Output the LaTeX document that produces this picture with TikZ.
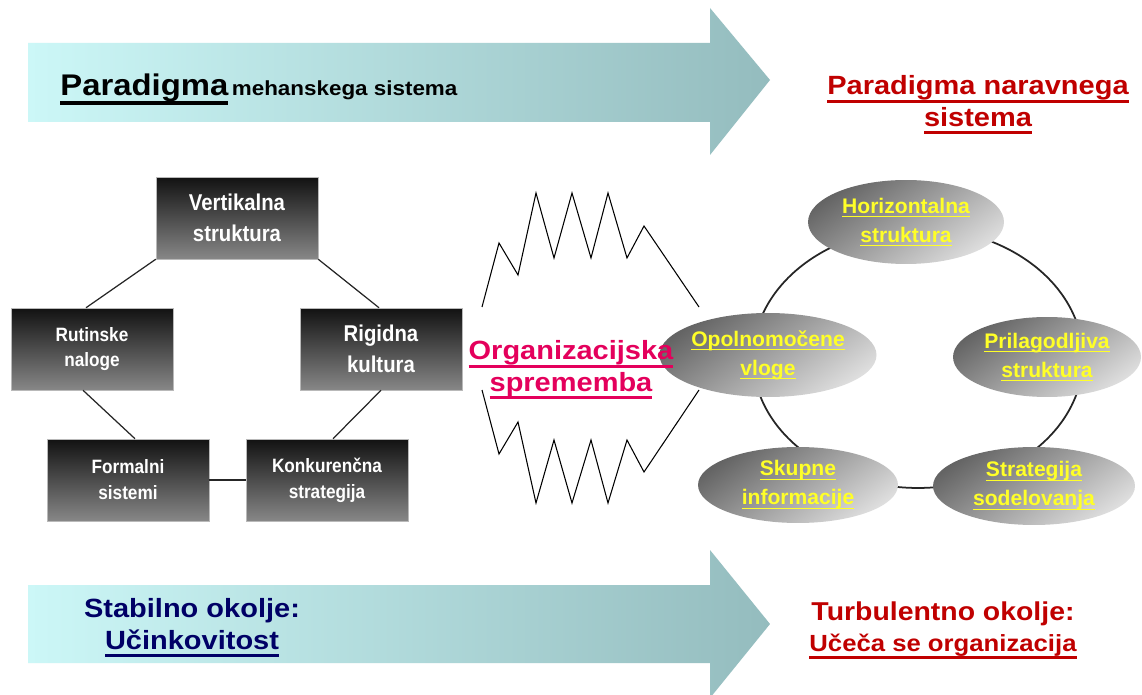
\documentclass[tikz,border=0pt]{standalone}
\usepackage{fontspec}
\setmainfont{Liberation Sans}
\newfontfamily\widefont[FakeStretch=1.1]{Liberation Sans}
\newfontfamily\narrowfont[FakeStretch=0.89]{Liberation Sans}
\usetikzlibrary{shapes.geometric}
\definecolor{arrowL}{RGB}{204,247,247}
\definecolor{arrowR}{RGB}{148,188,190}
\definecolor{navyc}{RGB}{0,0,102}
\definecolor{dredc}{RGB}{192,0,0}
\definecolor{pinkc}{RGB}{228,0,92}
\definecolor{yelc}{RGB}{255,255,40}
\definecolor{boxtop}{RGB}{18,18,18}
\definecolor{boxbot}{RGB}{135,135,135}
\definecolor{elltop}{RGB}{100,100,100}
\definecolor{ellbot}{RGB}{222,222,222}
\newsavebox\ulbox
\newcommand\myul[1]{\sbox\ulbox{#1}\rlap{\rule[-0.3em]{\wd\ulbox}{0.12em}}\usebox\ulbox}
\newcommand\myulthin[1]{\sbox\ulbox{#1}\rlap{\rule[-0.2em]{\wd\ulbox}{0.07em}}\usebox\ulbox}
\begin{document}
\begin{tikzpicture}[x=0.02cm,y=-0.02cm,
  bigarrow/.style={left color=arrowL,right color=arrowR,draw=none},
  darkbox/.style={rectangle,minimum width=3.24cm,minimum height=1.64cm,inner sep=0pt,
    top color=boxtop,bottom color=boxbot,draw=gray!55,line width=0.3pt,text=white,align=center},
  smallfont/.style={font=\narrowfont\bfseries\fontsize{11pt}{14.7pt}\selectfont},
  bigfont/.style={font=\narrowfont\bfseries\fontsize{13pt}{18pt}\selectfont},
  conn/.style={draw=black!85,line width=0.7pt},
  zig/.style={draw=black,line width=0.6pt,line join=miter},
  ring/.style={draw=black!85,line width=1pt},
  ell/.style={ellipse,inner sep=0pt,top color=elltop,bottom color=ellbot,shading angle=35,
    text=yelc,align=center,font=\bfseries\fontsize{12pt}{16.5pt}\selectfont},
  title/.style={inner sep=0pt,align=center,font=\widefont\bfseries\fontsize{15pt}{18pt}\selectfont}
]
\useasboundingbox (0,0) rectangle (1142,695);
\clip (0,0) rectangle (1142,695);
\fill[white] (0,0) rectangle (1142,695);

% big arrows
\shade[bigarrow] (28,43) -- (710,43) -- (710,8) -- (770,80) -- (710,155) -- (710,122) -- (28,122) -- cycle;
\shade[bigarrow] (28,585) -- (710,585) -- (710,550) -- (770,624) -- (710,698) -- (710,663) -- (28,663) -- cycle;

% arrow texts
\node[anchor=base west,inner sep=0pt,font=\widefont\bfseries\fontsize{17pt}{20pt}\selectfont] (paradm) at (60,96)
  {\myul{Paradigma}\hspace{2pt}{\fontsize{11.6pt}{14pt}\selectfont mehanskega sistema}};
\node[title,text=dredc] (paradn) at (978,105) {\myul{Paradigma naravnega}\\\myul{sistema}};
\node[title,text=navyc] (stab) at (192,628) {Stabilno okolje:\\\myul{Učinkovitost}};
\node[title,text=dredc,font=\widefont\bfseries\fontsize{14.7pt}{18pt}\selectfont] (turb) at (943,630)
  {Turbulentno okolje:\\{\fontsize{13.3pt}{18pt}\selectfont\myul{Učeča se organizacija}}};

% left boxes
\node[darkbox,bigfont] (vert) at (237,218) {Vertikalna\\struktura};
\node[darkbox,smallfont] (rut) at (92,349) {Rutinske\\naloge};
\node[darkbox,bigfont] (rig) at (381,349) {Rigidna\\kultura};
\node[darkbox,smallfont] (form) at (128,480) {Formalni\\sistemi};
\node[darkbox,smallfont] (konk) at (327,480) {Konkurenčna\\strategija};

\draw[conn] (vert.south west) -- ([xshift=-0.12cm]rut.north);
\draw[conn] (vert.south east) -- ([xshift=-0.04cm]rig.north);
\draw[conn] ([xshift=-0.18cm]rut.south) -- ([xshift=0.14cm]form.north);
\draw[conn] (rig.south) -- ([xshift=0.12cm]konk.north);
\draw[conn] (form.east) -- (konk.west);

% zigzags
\draw[zig] (482,307) -- (499,243) -- (518,275) -- (536,193) -- (554,258) -- (572,193) -- (591,258) -- (608,193) -- (627,258) -- (644,226) -- (699,307);
\draw[zig] (482,390) -- (499,454) -- (518,422) -- (536,503) -- (554,440) -- (572,503) -- (591,440) -- (608,503) -- (627,440) -- (644,472) -- (699,390);

% ring
\coordinate (ringc) at (918,358);
\draw[ring] (ringc) ellipse [x radius=3.3cm, y radius=2.6cm];

% ellipses
\node[ell,minimum width=3.92cm,minimum height=1.68cm] (hor) at (906,222) {\myulthin{Horizontalna}\\\myulthin{struktura}};
\node[ell,minimum width=3.88cm,minimum height=1.68cm] (opo) at (768,355) {\myulthin{Opolnomočene}\\\myulthin{vloge}};
\node[ell,minimum width=3.76cm,minimum height=1.6cm] (pri) at (1047,357) {\myulthin{Prilagodljiva}\\\myulthin{struktura}};
\node[ell,minimum width=4.0cm,minimum height=1.52cm] (sku) at (798,485) {\myulthin{Skupne}\\\myulthin{informacije}};
\node[ell,minimum width=4.04cm,minimum height=1.56cm] (str) at (1034,486) {\myulthin{Strategija}\\\myulthin{sodelovanja}};

% middle text
\node[title,text=pinkc] (orgspr) at (571,370) {\myul{Organizacijska}\\\myul{sprememba}};
\end{tikzpicture}
\end{document}
